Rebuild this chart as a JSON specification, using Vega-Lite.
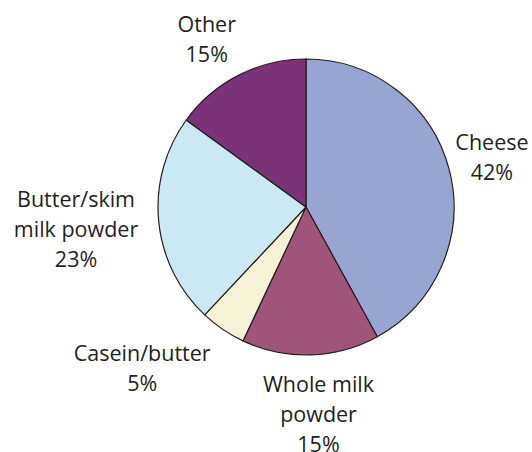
{
  "$schema": "https://vega.github.io/schema/vega-lite/v6.json",
  "width": 400,
  "height": 380,
  "autosize": {"type": "none"},
  "padding": {"left": 106, "top": 17, "right": 26, "bottom": 55},
  "background": "white",
  "view": {"stroke": null},
  "data": {
    "values": [
      {"idx": 1, "cat": "Cheese", "pct": 42, "label": "Cheese\n42%"},
      {"idx": 2, "cat": "Whole milk powder", "pct": 15, "label": "Whole milk\npowder\n15%"},
      {"idx": 3, "cat": "Casein/butter", "pct": 5, "label": "Casein/butter\n5%"},
      {"idx": 4, "cat": "Butter/skim milk powder", "pct": 23, "label": "Butter/skim\nmilk powder\n23%"},
      {"idx": 5, "cat": "Other", "pct": 15, "label": "Other\n15%"}
    ]
  },
  "encoding": {
    "theta": {"field": "pct", "type": "quantitative", "stack": true},
    "order": {"field": "idx", "type": "quantitative"}
  },
  "layer": [
    {
      "mark": {"type": "arc", "outerRadius": 148, "stroke": "#231f20", "strokeWidth": 1.2},
      "encoding": {
        "color": {
          "field": "cat",
          "type": "nominal",
          "sort": ["Cheese", "Whole milk powder", "Casein/butter", "Butter/skim milk powder", "Other"],
          "scale": {
            "domain": ["Cheese", "Whole milk powder", "Casein/butter", "Butter/skim milk powder", "Other"],
            "range": ["#98a4d2", "#a05479", "#f5f2d5", "#cbe9f3", "#7c3278"]
          },
          "legend": null
        }
      }
    },
    {
      "mark": {"type": "text", "font": "Open Sans", "fontSize": 21.5, "lineHeight": 30, "lineBreak": "\n", "fill": "#231f20", "align": "center", "baseline": "middle", "radius": 192, "dy": -15},
      "encoding": {
        "text": {"condition": {"test": "datum.cat === 'Cheese'", "field": "label"}, "value": ""}
      }
    },
    {
      "mark": {"type": "text", "font": "Open Sans", "fontSize": 21.5, "lineHeight": 30, "lineBreak": "\n", "fill": "#231f20", "align": "center", "baseline": "middle", "radius": 231, "dy": -28},
      "encoding": {
        "text": {"condition": {"test": "datum.cat === 'Butter/skim milk powder'", "field": "label"}, "value": ""}
      }
    },
    {
      "mark": {"type": "text", "font": "Open Sans", "fontSize": 21.5, "lineHeight": 30, "lineBreak": "\n", "fill": "#231f20", "align": "center", "baseline": "middle", "radius": 207, "dx": 6, "dy": -28},
      "encoding": {
        "text": {"condition": {"test": "datum.cat === 'Whole milk powder'", "field": "label"}, "value": ""}
      }
    },
    {
      "mark": {"type": "text", "font": "Open Sans", "fontSize": 21.5, "lineHeight": 30, "lineBreak": "\n", "fill": "#231f20", "align": "center", "baseline": "middle", "radius": 190, "dx": -13, "dy": -12},
      "encoding": {
        "text": {"condition": {"test": "datum.cat === 'Other'", "field": "label"}, "value": ""}
      }
    },
    {
      "mark": {"type": "text", "font": "Open Sans", "fontSize": 21.5, "lineHeight": 30, "lineBreak": "\n", "fill": "#231f20", "align": "center", "baseline": "middle", "radius": 231, "dx": -34, "dy": -43},
      "encoding": {
        "text": {"condition": {"test": "datum.cat === 'Casein/butter'", "field": "label"}, "value": ""}
      }
    }
  ]
}
